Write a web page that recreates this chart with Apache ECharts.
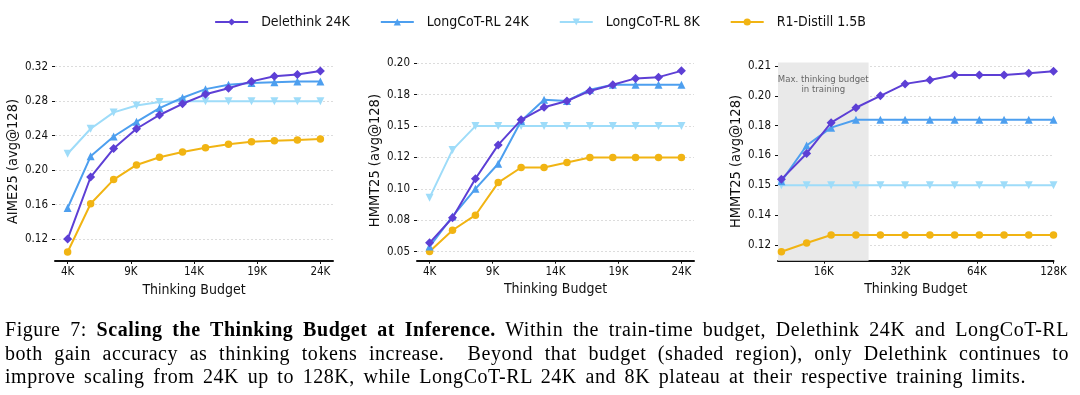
<!DOCTYPE html>
<html>
<head>
<meta charset="utf-8">
<script src="https://cdn.jsdelivr.net/npm/echarts@6/dist/echarts.min.js"></script>
<style>
  html, body { margin: 0; padding: 0; background: #fff; }
  #wrap { position: relative; width: 1080px; height: 395px; overflow: hidden; }
  #chart { position: absolute; left: 0; top: 0; width: 1080px; height: 395px; }
  #caption {
    position: absolute; left: 5px; top: 318px; width: 1064px;
    font-family: "Liberation Serif", "Times New Roman", serif;
    font-size: 20px; line-height: 23.5px; color: #000; letter-spacing: 0.55px;
  }
  #caption .ln { white-space: nowrap; text-align: justify; text-align-last: justify; }
  #caption .ln.last { width: 1021px; }
</style>
</head>
<body>
<div id="wrap">
  <div id="chart"></div>
  <div id="caption">
    <div class="ln">Figure 7: <b>Scaling the Thinking Budget at Inference.</b> Within the train-time budget, Delethink 24K and LongCoT-RL</div>
    <div class="ln">both gain accuracy as thinking tokens increase.&nbsp; Beyond that budget (shaded region), only Delethink continues to</div>
    <div class="ln last">improve scaling from 24K up to 128K, while LongCoT-RL 24K and 8K plateau at their respective training limits.</div>
  </div>
</div>
<script>
// ---------- data ----------
const seriesNames = ['Delethink 24K', 'LongCoT-RL 24K', 'LongCoT-RL 8K', 'R1-Distill 1.5B'];

// thinking budgets (K tokens)
const budgetsShort = [4, 5.82, 7.64, 9.45, 11.27, 13.09, 14.91, 16.73, 18.55, 20.36, 22.18, 24];
const budgetsLong = [10.9, 13.7, 17.1, 21.4, 26.7, 33.4, 41.8, 52.3, 65.4, 81.8, 102.3, 128];

// AIME25 panel
const delethinkAime = [0.120, 0.192, 0.225, 0.248, 0.264, 0.277, 0.288, 0.295, 0.303, 0.309, 0.311, 0.315];
const longcot24Aime = [0.156, 0.216, 0.239, 0.256, 0.272, 0.284, 0.294, 0.299, 0.301, 0.302, 0.303, 0.303];
const longcot8Aime  = [0.219, 0.248, 0.267, 0.275, 0.279, 0.280, 0.280, 0.280, 0.280, 0.280, 0.280, 0.280];
const r1Aime        = [0.105, 0.161, 0.189, 0.206, 0.215, 0.221, 0.226, 0.230, 0.233, 0.234, 0.235, 0.236];

// HMMT25 panel (4K-24K)
const delethinkHmmt = [0.057, 0.077, 0.108, 0.135, 0.155, 0.165, 0.170, 0.178, 0.183, 0.188, 0.189, 0.194];
const longcot24Hmmt = [0.054, 0.078, 0.100, 0.120, 0.154, 0.171, 0.170, 0.179, 0.183, 0.183, 0.183, 0.183];
const longcot8Hmmt  = [0.093, 0.131, 0.150, 0.150, 0.150, 0.150, 0.150, 0.150, 0.150, 0.150, 0.150, 0.150];
const r1Hmmt        = [0.050, 0.067, 0.079, 0.105, 0.117, 0.117, 0.121, 0.125, 0.125, 0.125, 0.125, 0.125];

// HMMT25 panel (extended budgets)
const delethinkLong = [0.153, 0.166, 0.1815, 0.189, 0.195, 0.201, 0.203, 0.2055, 0.2055, 0.2055, 0.2063, 0.2073];
const longcot24Long = [0.152, 0.170, 0.179, 0.183, 0.183, 0.183, 0.183, 0.183, 0.183, 0.183, 0.183, 0.183];
const longcot8Long  = [0.150, 0.150, 0.150, 0.150, 0.150, 0.150, 0.150, 0.150, 0.150, 0.150, 0.150, 0.150];
const r1Long        = [0.1166, 0.121, 0.125, 0.125, 0.125, 0.125, 0.125, 0.125, 0.125, 0.125, 0.125, 0.125];

// tick values / labels
const xTicksShort = [4, 9, 14, 19, 24];
const xTicksLong = [16, 32, 64, 128];
const yTicks1 = [0.12, 0.16, 0.20, 0.24, 0.28, 0.32];
const yLabels1 = ['0.12', '0.16', '0.20', '0.24', '0.28', '0.32'];
const yTicks2 = [0.05, 0.075, 0.10, 0.125, 0.15, 0.175, 0.20];
const yLabels2 = ['0.05', '0.08', '0.10', '0.12', '0.15', '0.18', '0.20'];
const yTicks3 = [0.12, 0.135, 0.15, 0.165, 0.18, 0.195, 0.21];
const yLabels3 = ['0.12', '0.14', '0.15', '0.16', '0.18', '0.20', '0.21'];
const trainBudget = 24;
const shadeLabel = 'Max. thinking budget\nin training';

// ---------- style ----------
const FONT = '"DejaVu Sans Condensed", "Liberation Sans Narrow", "DejaVu Sans", sans-serif';
const colors = ['#5D3FD5', '#4D9FEF', '#9EDCF9', '#F1B413'];
const symbols = ['diamond', 'triangle', 'triangle', 'circle'];
const symbolSizes = [9, 8, 8, 7.5];
const symbolRotates = [0, 0, 180, 0];

function pairs(xs, ys) { return xs.map((x, i) => [x, ys[i]]); }
function lookup(ticks, labels) {
  return v => { const i = ticks.findIndex(t => Math.abs(t - v) < 1e-6); return i >= 0 ? labels[i] : ''; };
}

const grids = [
  { left: 55, top: 62, width: 278, height: 199 },
  { left: 417, top: 60.5, width: 277, height: 200.2 },
  { left: 778, top: 62.4, width: 275.5, height: 198.3 }
];

function xAxisCommon(i) {
  return {
    gridIndex: i,
    nameLocation: 'middle', name: 'Thinking Budget', nameGap: 18,
    nameTextStyle: { fontFamily: FONT, fontSize: 14, color: '#111' },
    axisLine: { show: true, onZero: false, lineStyle: { color: '#111', width: 2 } },
    splitLine: { show: false },
    axisLabel: { fontFamily: FONT, fontSize: 11.5, color: '#111', margin: 5, formatter: v => v + 'K' },
    axisTick: { show: true, length: 3, lineStyle: { color: '#111', width: 1 } }
  };
}
const xAxes = [
  Object.assign(xAxisCommon(0), { type: 'value', min: 3, max: 25 }),
  Object.assign(xAxisCommon(1), { type: 'value', min: 3, max: 25 }),
  Object.assign(xAxisCommon(2), { type: 'log', logBase: 2, min: 10.57, max: 128 })
];
xAxes[0].axisLabel.customValues = xTicksShort; xAxes[0].axisTick.customValues = xTicksShort;
xAxes[1].axisLabel.customValues = xTicksShort; xAxes[1].axisTick.customValues = xTicksShort;
xAxes[2].axisLabel.customValues = xTicksLong;  xAxes[2].axisTick.customValues = xTicksLong;

function yAxis(i, min, max, ticks, labels, name) {
  return {
    gridIndex: i, type: 'value', min: min, max: max,
    name: name, nameLocation: 'middle', nameGap: 28,
    nameTextStyle: { fontFamily: FONT, fontSize: 14.5, color: '#111' },
    axisLine: { show: false },
    axisTick: { show: true, length: 3, customValues: ticks, lineStyle: { color: '#111', width: 1 } },
    axisLabel: { fontFamily: FONT, fontSize: 11.5, color: '#111', margin: 7, customValues: ticks, formatter: lookup(ticks, labels) },
    splitLine: { show: true, lineStyle: { color: '#dcdcdc', width: 1, type: [2, 2] } }
  };
}
const yAxes = [
  yAxis(0, 0.0945, 0.3255, yTicks1, yLabels1, 'AIME25 (avg@128)'),
  yAxis(1, 0.04275, 0.20225, yTicks2, yLabels2, 'HMMT25 (avg@128)'),
  yAxis(2, 0.1121, 0.2118, yTicks3, yLabels3, 'HMMT25 (avg@128)')
];

const panelData = [
  [budgetsShort, [delethinkAime, longcot24Aime, longcot8Aime, r1Aime]],
  [budgetsShort, [delethinkHmmt, longcot24Hmmt, longcot8Hmmt, r1Hmmt]],
  [budgetsLong, [delethinkLong, longcot24Long, longcot8Long, r1Long]]
];

const series = [];
panelData.forEach((p, gi) => {
  const xs = p[0];
  [3, 2, 1, 0].forEach(si => {
    series.push({
      type: 'line', name: seriesNames[si], xAxisIndex: gi, yAxisIndex: gi,
      data: pairs(xs, p[1][si]),
      symbol: symbols[si], symbolSize: symbolSizes[si], symbolRotate: symbolRotates[si],
      showAllSymbol: true,
      lineStyle: { color: colors[si], width: 2 },
      itemStyle: { color: colors[si] },
      z: 10 - si, animation: false
    });
  });
});
// shaded "training budget" region on the third panel
series.push({
  type: 'line', xAxisIndex: 2, yAxisIndex: 2, data: [], silent: true, animation: false,
  markArea: {
    silent: true,
    itemStyle: { color: '#e9e9e9' },
    label: { show: true, position: 'insideTop', distance: 12, color: '#666', fontFamily: FONT, fontSize: 9.5, lineHeight: 10, align: 'center' },
    data: [[{ xAxis: 10.57, name: shadeLabel }, { xAxis: trainBudget }]]
  },
  z: 1
});

const chart = echarts.init(document.getElementById('chart'), null, { renderer: 'canvas' });
chart.setOption({
  animation: false,
  color: colors,
  legend: {
    data: seriesNames,
    top: 10, left: 'center', itemWidth: 33, itemHeight: 9, itemGap: 30,
    textStyle: { fontFamily: FONT, fontSize: 14, color: '#111', padding: [0, 0, 0, 8] }
  },
  grid: grids,
  xAxis: xAxes,
  yAxis: yAxes,
  series: series
});
</script>
</body>
</html>
